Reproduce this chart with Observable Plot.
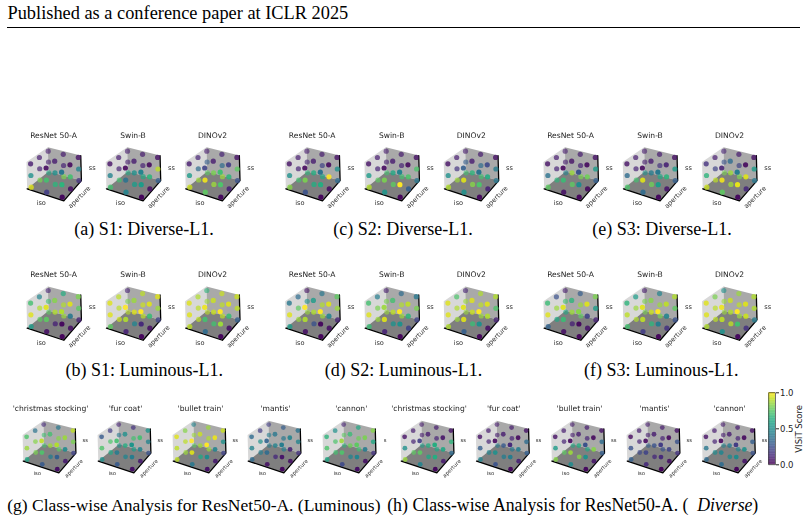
<!DOCTYPE html>
<html><head><meta charset="utf-8">
<script src="https://cdn.jsdelivr.net/npm/d3@7"></script>
<script src="https://cdn.jsdelivr.net/npm/@observablehq/plot@0.6"></script>
<style>
html,body{margin:0;padding:0;background:#fff;overflow:hidden}
#page{position:relative;width:809px;height:521px;background:#fff}
#page svg{position:absolute;background:transparent;overflow:visible}
.soft{filter:blur(.3px)}
</style></head><body><div id="page"></div>
<script>
// Grid levels: scores below run aperture 0..2, then iso 0..2, then ss 0..2
const isoLevels = [0, 1, 2], apertureLevels = [0, 1, 2], ssLevels = [0, 1, 2];

const s1DivResNet = [.95,.5,.08,.18,.7,.03,.03,.65,.4, .8,.1,.08,.65,.5,.08,.05,.7,.03, .6,.08,.08,.8,.1,.08,.15,.45,.05];
const s1DivSwin   = [.7,.45,.05,.45,.38,.02,.02,.55,.45, .7,.1,.08,.55,.5,.08,.05,.65,.03, .6,.08,.08,.6,.1,.08,.3,.9,.05];
const s1DivDino   = [.92,.55,.08,.75,.98,.2,.03,.72,.7, .85,.35,.1,.85,.8,.08,.1,.65,.18, .75,.3,.08,.85,.35,.1,.25,.75,.05];
const s2DivResNet = [.82,.5,.05,.25,.8,.03,.02,.62,.38, .7,.1,.08,.62,.62,.08,.05,1,.03, .65,.1,.08,.6,.2,.08,.35,.5,.05];
const s2DivSwin   = [.88,.55,.05,.52,.8,.03,.02,1,.45, .75,.1,.08,.75,.6,.08,.3,.72,.03, .7,.08,.08,.7,.1,.08,.4,.72,.05];
const s2DivDino   = [.88,.5,.05,.5,.95,.3,.03,.72,.38, .85,.15,.08,.82,.65,.08,.1,.62,.22, .7,.3,.08,.7,.35,.08,.4,.42,.05];
const s3DivResNet = [.75,.38,.05,.05,.68,.02,.02,.48,.25, .65,.1,.08,.75,.85,.05,.03,.78,.03, .45,.08,.08,.8,.1,.08,.3,.55,.05];
const s3DivSwin   = [.72,.35,.05,.35,.95,.03,.03,.55,.4, .7,.1,.08,.78,.42,.08,.06,.65,.1, .5,.08,.08,.6,.15,.08,.3,.55,.05];
const s3DivDino   = [.92,.65,.15,.75,.98,.1,.03,.96,.42, .9,.2,.08,.85,.85,.35,.12,.95,.03, .8,.25,.1,.8,.2,.08,.4,.55,.05];

const s1LumResNet = [.55,.95,.7,.05,.75,.95,.02,.03,.88, .75,.88,.45,.1,.88,.82,.05,.4,.95, .75,.7,.1,.85,.88,.62,.1,.75,.8];
const s1LumSwin   = [.75,.95,.95,.1,.88,1,.02,.12,1, .92,.9,.9,.45,.95,.85,.05,.68,.95, .9,.8,.1,.9,.92,.9,.2,.85,.95];
const s1LumDino   = [.9,.95,.95,.35,.7,.97,.02,.85,1, .9,.9,.88,.7,.92,.92,.05,.68,.95, .9,.85,.65,.9,.9,.92,.3,.9,.92];
const s2LumResNet = [.55,.95,.4,.05,.88,1,.02,.03,1, .85,.75,.35,.25,.88,.55,.05,.45,.95, .85,.5,.05,.85,.88,.4,.1,.85,.75];
const s2LumSwin   = [.68,.95,.7,.1,.95,.85,.02,.5,1, .85,.8,.42,.5,.9,.7,.2,.65,.9, .85,.8,.08,.85,.88,.35,.2,.8,.4];
const s2LumDino   = [.88,.95,.95,.3,.95,.95,.02,.5,1, .85,.88,.72,.68,.92,.95,.05,.88,.95, .85,.85,.1,.85,.9,.88,.1,.72,.88];
const s3LumResNet = [.32,.95,.68,.05,.68,.95,.02,.03,.82, .6,.85,.25,.1,.85,.65,.06,.2,.95, .6,.7,.08,.75,.85,.3,.1,.55,.8];
const s3LumSwin   = [.7,.9,.65,.18,.9,.95,.02,.42,1, .88,.85,.55,.65,.92,.82,.15,.45,.9, .8,.8,.08,.8,.85,.45,.25,.75,.88];
const s3LumDino   = [.88,.95,.95,.5,.9,.97,.03,.7,1, .9,.9,.8,.9,.88,.92,.15,.92,.95, .85,.85,.5,.85,.9,.85,.42,.88,.88];

const lumStocking = [.6,.85,.72,.28,.72,.9,.05,.3,.88, .8,.82,.38,.42,.85,.7,.08,.48,.85, .7,.7,.12,.75,.82,.4,.2,.8,.9];
const lumFurCoat  = [.5,.72,.28,.28,.42,.7,.05,.42,.52, .6,.72,.18,.45,.62,.5,.08,.45,.7, .5,.4,.1,.55,.7,.15,.25,.45,.52];
const lumTrain    = [.9,.9,.95,.4,.95,1,.06,.48,1, .85,.9,.82,.6,.85,.92,.08,.45,.97, .75,.85,.45,.85,.88,.85,.2,.5,.92];
const lumMantis   = [.35,.45,.35,.05,.35,.32,.03,.06,.42, .42,.5,.18,.12,.45,.4,.05,.1,.45, .42,.42,.18,.42,.4,.3,.15,.45,.38];
const lumCannon   = [.6,.72,.65,.22,.72,.85,.05,.45,.75, .7,.72,.5,.45,.78,.68,.05,.42,.8, .65,.75,.1,.7,.78,.6,.15,.6,.82];

const divStocking = [.85,.5,.05,.45,.75,.18,.03,.62,.62, .75,.1,.08,.6,.62,.08,.08,.6,.06, .55,.08,.08,.6,.1,.08,.35,.65,.05];
const divFurCoat  = [.45,.3,.05,.25,.5,.03,.03,.42,.12, .45,.1,.08,.42,.28,.08,.1,.42,.03, .42,.08,.08,.4,.1,.08,.3,.35,.05];
const divTrain    = [.82,.55,.05,.48,.85,.03,.03,.5,.25, .75,.1,.08,.82,.62,.08,.06,.82,.03, .6,.08,.08,.6,.1,.08,.3,.35,.05];
const divMantis   = [.3,.25,.03,.12,.2,.03,.02,.12,.18, .22,.1,.08,.12,.25,.08,.05,.2,.03, .3,.08,.08,.25,.1,.08,.15,.25,.05];
const divCannon   = [.35,.4,.05,.35,.45,.02,.02,.48,.18, .48,.1,.08,.48,.42,.08,.06,.5,.03, .45,.08,.08,.45,.1,.08,.25,.3,.05];

const modelTitles = ["ResNet 50-A", "Swin-B", "DINOv2"];
const classTitles = ["'christmas stocking'", "'fur coat'", "'bullet train'", "'mantis'", "'cannon'"];
const captions = ["(a) S1: Diverse-L1.", "(c) S2: Diverse-L1.", "(e) S3: Diverse-L1.", "(b) S1: Luminous-L1.", "(d) S2: Luminous-L1.", "(f) S3: Luminous-L1."];
const scoreTicks = [0, 0.5, 1];

// Layout of the small multiples on the page
const topGroups = [
  [s1DivResNet, s1DivSwin, s1DivDino, 0, 0],
  [s2DivResNet, s2DivSwin, s2DivDino, 258.7, 0],
  [s3DivResNet, s3DivSwin, s3DivDino, 517, 0],
  [s1LumResNet, s1LumSwin, s1LumDino, 0, 139.3],
  [s2LumResNet, s2LumSwin, s2LumDino, 258.7, 139.3],
  [s3LumResNet, s3LumSwin, s3LumDino, 517, 139.3]
];
const modelX = [30.7, 110, 189.3];
const panels = [];
topGroups.forEach(g => modelTitles.forEach((t, j) => panels.push({
  scores: g[j], title: t, ox: modelX[j] + g[3], oy: 186.7 + g[4], k: 1, titleY: 135 + g[4], titleX: [53, 132.5, 212][j] + g[3], lab: 6.6
})));
const classX = [26.7, 101.7, 176.7, 251.7, 326.7, 404.7, 480, 555.3, 630.7, 706];
const classTitleX = [50, 125, 200, 275, 350.7, 428.5, 503.3, 579, 654, 729];
[lumStocking, lumFurCoat, lumTrain, lumMantis, lumCannon, divStocking, divFurCoat, divTrain, divMantis, divCannon]
  .forEach((s, j) => panels.push({scores: s, title: classTitles[j % 5], ox: classX[j], oy: 459, k: .97, titleY: 408, titleX: classTitleX[j], lab: 5.4, clipSs: j === 4}));

// Perspective of the 3D boxes
const proj = (p, i, a, s) => [
  p.ox + p.k * (15.5 * i + 8.8 * a - 0.22 * i * a - 0.3 * s),
  p.oy + p.k * (5 * i - 7.2 * a - 0.55 * i * a - s * (11.7 + 0.4 * i - 0.45 * a))
];
const im = -0.15, iM = 2.21, am = -0.2, aM = 2.22, sf = -0.08, sT = 2.2;
const iR = 2.08, aR = 2.15, sR = 2.08; // far right corner of the box

const wall = (name, corners) => panels.flatMap((p, n) => corners.map(c => {
  const [x, y] = proj(p, c[0], c[1], c[2]);
  return {x, y, z: name + n};
}));
const leftWall = wall("l", [[im,am,sf],[im,aM,sf],[im,aM,sT],[im,am,sT]]);
const backWall = wall("b", [[im,aM,sf],[iR,aR,sf],[iR,aR,sR],[im,aM,sT]]);
const floor = wall("f", [[im,am,sf],[iM,am,sf],[iR,aR,sf],[im,aM,sf]]);
const edges = wall("e", [[im,am,sf],[iM,am,sf],[iR,aR,sf],[iR,aR,sR]]);

const points = panels.flatMap(p => apertureLevels.flatMap((a, ai) => isoLevels.flatMap((i, ii) => ssLevels.map((s, si) => {
  const [x, y] = proj(p, i, a, s);
  return {x, y, score: p.scores[ai * 9 + ii * 3 + si], depth: (i - a + 2) / 4 + s * 0.01, r: p.k < 1 ? 2.4 : 2.6};
})))).sort((a, b) => a.depth - b.depth);

const labels = panels.flatMap(p => {
  const L = p.k < 1;
  return [
    {text: "iso", x: p.ox + 10, y: p.oy + (L ? 14 : 16), fs: p.lab},
    {text: p.clipSs ? "s" : "ss", x: p.ox + (L ? 58 : 61), y: p.oy + (L ? -19 : -19.4), fs: p.lab}
  ];
});
const apertureLabels = panels.map(p => ({text: "aperture", x: p.ox + (p.k < 1 ? 46.6 : 48.2), y: p.oy + (p.k < 1 ? 9 : 10), fs: p.lab}));
const titles = panels.map(p => ({text: p.title, x: p.titleX, y: p.titleY}));
const capts = captions.map((text, j) => ({text, x: [143.5, 402.5, 661.5, 143.8, 403, 660.8][j], y: j < 3 ? 229 : 370}));

const sans = "DejaVu Sans", serif = "Liberation Serif";
const fsGroups = [5.4, 6.6];
const main = Plot.plot({
  width: 809, height: 521, margin: 0,
  x: {domain: [0, 809], range: [0, 809], axis: null},
  y: {domain: [0, 521], range: [0, 521], axis: null},
  color: {type: "linear", scheme: "viridis", domain: [0, 1]},
  opacity: {type: "linear", domain: [0, 1], range: [0, 1]},
  r: {type: "identity"},
  marks: [
    Plot.line(leftWall, {x: "x", y: "y", z: "z", fill: "#d8d8d8", stroke: "none", curve: "linear-closed", className: "soft"}),
    Plot.line(backWall, {x: "x", y: "y", z: "z", fill: "#a9a9a9", stroke: "none", curve: "linear-closed", className: "soft"}),
    Plot.line(floor, {x: "x", y: "y", z: "z", fill: "#7f7f7f", stroke: "none", curve: "linear-closed", className: "soft"}),
    Plot.line(edges, {x: "x", y: "y", z: "z", stroke: "#000", strokeWidth: 1.3, fill: "none", className: "soft"}),
    Plot.dot(points, {x: "x", y: "y", r: "r", fill: "score", fillOpacity: d => 0.6 + 0.4 * d.depth, stroke: "none", className: "soft"}),
    ...fsGroups.map(fs => Plot.text(labels.filter(d => d.fs === fs), {x: "x", y: "y", text: "text", fontSize: fs, fontFamily: sans, fill: "#333", className: "soft"})),
    ...fsGroups.map(fs => Plot.text(apertureLabels.filter(d => d.fs === fs), {x: "x", y: "y", text: "text", fontSize: fs, fontFamily: sans, fill: "#333", rotate: -45, className: "soft"})),
    Plot.text(titles, {x: "x", y: "y", text: "text", fontSize: 7.6, fontFamily: sans, fill: "#222", className: "soft"}),
    Plot.text(capts, {x: "x", y: "y", text: "text", fontSize: 18, fontFamily: serif, fill: "#000"}),
    Plot.text(["(g) Class-wise Analysis for ResNet50-A. (Luminous)"], {x: [6.7], y: [505], text: d => d, fontSize: 17.5, fontFamily: serif, textAnchor: "start", fill: "#000"}),
    Plot.text(["(h) Class-wise Analysis for ResNet50-A. ("], {x: [386.7], y: [505], text: d => d, fontSize: 17.8, fontFamily: serif, textAnchor: "start", fill: "#000"}),
    Plot.text(["Diverse"], {x: [696.7], y: [505], text: d => d, fontSize: 17.8, fontFamily: serif, fontStyle: "italic", textAnchor: "start", fill: "#000"}),
    Plot.text([")"], {x: [751.7], y: [505], text: d => d, fontSize: 17.8, fontFamily: serif, textAnchor: "start", fill: "#000"}),
    Plot.text(["Published as a conference paper at ICLR 2025"], {x: [7], y: [13], text: d => d, fontSize: 18.35, fontFamily: serif, textAnchor: "start", fill: "#000"}),
    Plot.ruleY([27], {x1: 7, x2: 800, stroke: "#000", strokeWidth: 1})
  ]
});
main.style.left = "0"; main.style.top = "0";
document.getElementById("page").appendChild(main);

// Colour bar with a real axis
const barSteps = d3.range(0, 1, 0.01);
const bar = Plot.plot({
  width: 49, height: 90, marginLeft: 8.3, marginRight: 34, marginTop: 7.3, marginBottom: 10.7,
  x: {domain: [0, 1], axis: null},
  y: {domain: [0, 1], axis: null},
  color: {type: "linear", scheme: "viridis", domain: [0, 1]},
  style: {fontFamily: sans, fontSize: "8.5px", color: "#222"},
  marks: [
    Plot.rect(barSteps, {x1: 0, x2: 1, y1: d => d, y2: d => d + 0.0105, fill: d => d}),
    Plot.frame({stroke: "#111", strokeWidth: 0.6}),
    Plot.axisY({anchor: "right", ticks: scoreTicks, tickFormat: ".1f", tickSize: 3, tickPadding: 1.5, fontSize: 8.5, label: "VISiT Score", labelAnchor: "center", labelArrow: "none", labelOffset: 26})
  ]
});
bar.style.left = "760px"; bar.style.top = "385px";
document.getElementById("page").appendChild(bar);
</script></body></html>
